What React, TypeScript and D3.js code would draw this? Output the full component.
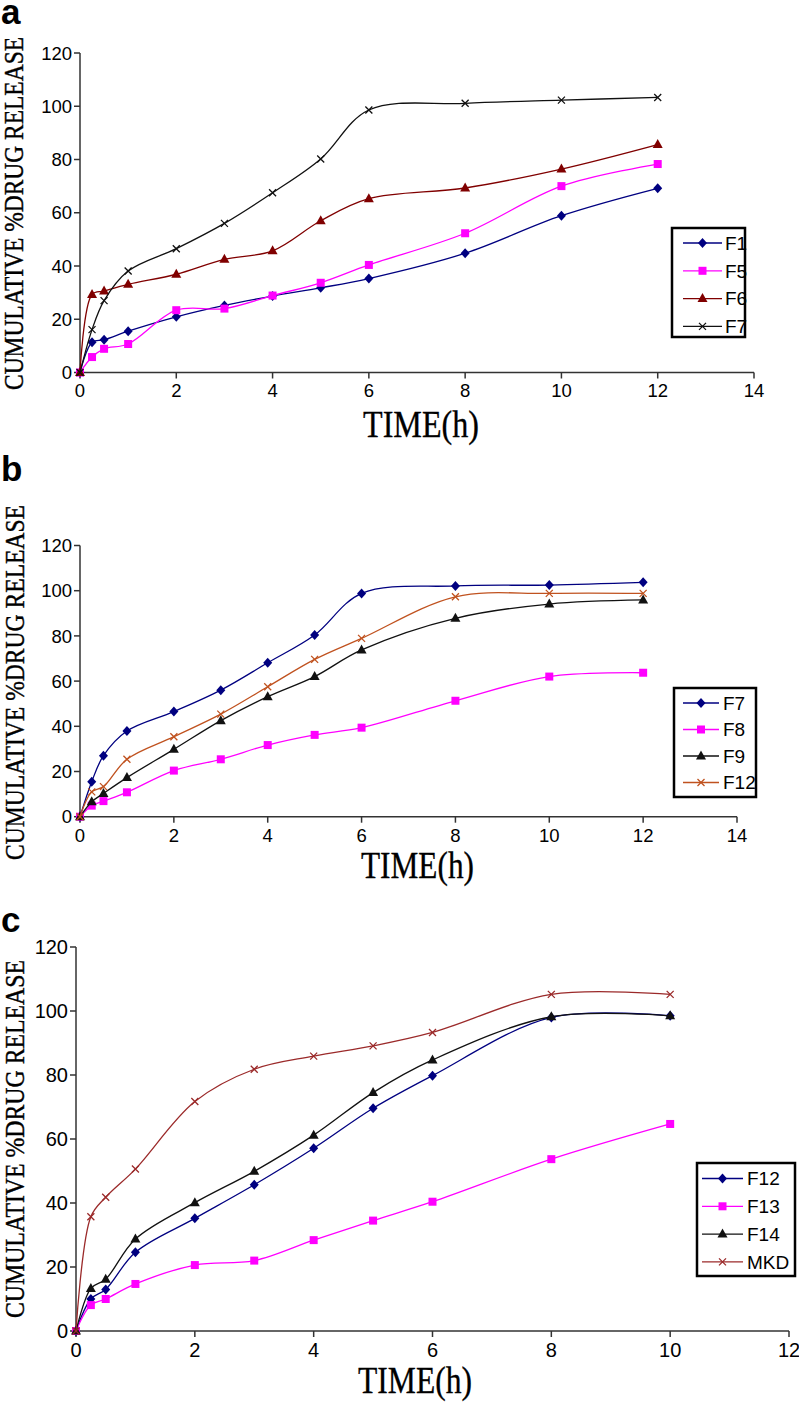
import React from 'react';
import * as d3 from 'd3';

// ---------- DATA ----------
const TIME_AB = [0, 0.25, 0.5, 1, 2, 3, 4, 5, 6, 8, 10, 12];
const TIME_C = [0, 0.25, 0.5, 1, 2, 3, 4, 5, 6, 8, 10];

const A_F1 = [0, 11.4, 12.3, 15.5, 20.9, 25.2, 28.7, 31.8, 35.3, 44.8, 58.9, 69.2];
const A_F5 = [0, 5.8, 8.9, 10.7, 23.4, 24.0, 28.9, 33.7, 40.4, 52.3, 70.0, 78.3];
const A_F6 = [0, 29.3, 30.6, 33.1, 36.9, 42.5, 45.7, 57.0, 65.3, 69.3, 76.4, 85.6];
const A_F7 = [0, 16.1, 27.0, 38.1, 46.5, 56.0, 67.5, 80.2, 98.6, 101.1, 102.3, 103.3];

const B_F7 = [0, 15.5, 27.0, 37.9, 46.5, 56.0, 68.1, 80.4, 98.8, 102.1, 102.5, 103.7];
const B_F8 = [0, 4.9, 6.9, 10.8, 20.4, 25.4, 31.7, 36.2, 39.4, 51.3, 62.0, 63.7];
const B_F9 = [0, 6.6, 10.3, 17.3, 29.8, 42.5, 53.1, 62.0, 73.8, 87.8, 94.1, 95.9];
const B_F12 = [0, 11.0, 13.3, 25.4, 35.4, 45.4, 57.5, 69.6, 78.9, 97.3, 98.8, 98.8];

const C_F12 = [0, 10.0, 13.0, 24.6, 35.2, 45.7, 57.1, 69.6, 79.8, 98.0, 98.5];
const C_F13 = [0, 8.1, 10.0, 14.7, 20.6, 22.0, 28.4, 34.5, 40.4, 53.7, 64.7];
const C_F14 = [0, 13.3, 16.2, 28.75, 40.1, 49.9, 61.2, 74.5, 84.7, 98.2, 98.5];
const C_MKD = [0, 35.7, 41.8, 50.6, 71.7, 81.8, 85.9, 89.1, 93.3, 105.2, 105.2];

const Y_TICKS = [0, 20, 40, 60, 80, 100, 120];
const X_TICKS_AB = [0, 2, 4, 6, 8, 10, 12, 14];
const X_TICKS_C = [0, 2, 4, 6, 8, 10, 12];

const PANEL_LETTERS = ['a', 'b', 'c'];
const Y_TITLE = 'CUMULATIVE %DRUG RELEASE';
const X_TITLE = 'TIME(h)';

type MarkerType = 'diamond' | 'square' | 'triangle' | 'x';
type Series = { name: string; values: number[]; color: string; marker: MarkerType };

const NAVY = '#000080';
const MAGENTA = '#ff00ff';
const MAROON = '#800000';
const BLACK = '#111111';
const BROWN = '#c0521f';
const MKD_RED = '#9b2a2a';

const SERIES_A: Series[] = [
  { name: 'F1', values: A_F1, color: NAVY, marker: 'diamond' },
  { name: 'F5', values: A_F5, color: MAGENTA, marker: 'square' },
  { name: 'F6', values: A_F6, color: MAROON, marker: 'triangle' },
  { name: 'F7', values: A_F7, color: BLACK, marker: 'x' },
];
const SERIES_B: Series[] = [
  { name: 'F7', values: B_F7, color: NAVY, marker: 'diamond' },
  { name: 'F8', values: B_F8, color: MAGENTA, marker: 'square' },
  { name: 'F9', values: B_F9, color: BLACK, marker: 'triangle' },
  { name: 'F12', values: B_F12, color: BROWN, marker: 'x' },
];
const SERIES_C: Series[] = [
  { name: 'F12', values: C_F12, color: NAVY, marker: 'diamond' },
  { name: 'F13', values: C_F13, color: MAGENTA, marker: 'square' },
  { name: 'F14', values: C_F14, color: BLACK, marker: 'triangle' },
  { name: 'MKD', values: C_MKD, color: MKD_RED, marker: 'x' },
];

// ---------- LAYOUT ----------
type Layout = {
  letterY: number;
  x0: number; x1: number; xMax: number;
  yBottom: number; yTop: number;
  tickFont: number;
  yTitleTop: number; yTitleBottom: number; yTitleX: number;
  xTitleX0: number; xTitleX1: number; xTitleBase: number;
  legend: { x0: number; x1: number; y0: number; y1: number; firstY: number; step: number; lineX0: number; lineX1: number; textX: number };
};

const LAYOUTS: Layout[] = [
  {
    letterY: 24, x0: 80, x1: 754, xMax: 14, yBottom: 372.5, yTop: 53, tickFont: 18.5,
    yTitleTop: 37, yTitleBottom: 390, yTitleX: 23,
    xTitleX0: 363, xTitleX1: 479, xTitleBase: 437,
    legend: { x0: 672, x1: 745, y0: 228, y1: 337, firstY: 243, step: 27.8, lineX0: 683, lineX1: 722, textX: 725 },
  },
  {
    letterY: 481, x0: 80, x1: 737, xMax: 14, yBottom: 816.7, yTop: 545.5, tickFont: 18.5,
    yTitleTop: 505, yTitleBottom: 860, yTitleX: 24,
    xTitleX0: 361, xTitleX1: 474, xTitleBase: 878,
    legend: { x0: 674, x1: 756, y0: 688, y1: 797, firstY: 703, step: 26.5, lineX0: 683, lineX1: 719, textX: 723 },
  },
  {
    letterY: 932, x0: 76, x1: 789, xMax: 12, yBottom: 1331, yTop: 947, tickFont: 20,
    yTitleTop: 960, yTitleBottom: 1318, yTitleX: 24,
    xTitleX0: 358, xTitleX1: 472, xTitleBase: 1393,
    legend: { x0: 697, x1: 795, y0: 1163, y1: 1276, firstY: 1178.5, step: 27.8, lineX0: 702, lineX1: 743, textX: 747 },
  },
];

const SANS = '"Liberation Sans", Arial, sans-serif';
const SERIF = '"Liberation Serif", "Times New Roman", serif';

function Marker({ type, x, y, color }: { type: MarkerType; x: number; y: number; color: string }) {
  if (type === 'diamond') {
    return <path d={`M${x},${y - 5}L${x + 4.5},${y}L${x},${y + 5}L${x - 4.5},${y}Z`} fill={color} />;
  }
  if (type === 'square') {
    return <rect x={x - 4} y={y - 4} width={8} height={8} fill={color} />;
  }
  if (type === 'triangle') {
    return <path d={`M${x},${y - 5.5}L${x + 5},${y + 3.5}L${x - 5},${y + 3.5}Z`} fill={color} />;
  }
  return (
    <path
      d={`M${x - 3.5},${y - 3.5}L${x + 3.5},${y + 3.5}M${x - 3.5},${y + 3.5}L${x + 3.5},${y - 3.5}`}
      stroke={color}
      strokeWidth={1.3}
      fill="none"
    />
  );
}

function Panel({ layout, series, time, xTicks, letter }: { layout: Layout; series: Series[]; time: number[]; xTicks: number[]; letter: string }) {
  const L = layout;
  const x = d3.scaleLinear().domain([0, L.xMax]).range([L.x0, L.x1]);
  const y = d3.scaleLinear().domain([0, 120]).range([L.yBottom, L.yTop]);
  const line = d3
    .line<number>()
    .x((_, i) => x(time[i]))
    .y((d) => y(d))
    .curve(d3.curveCatmullRom.alpha(0.5));
  const axisColor = '#333';
  const yTitleCenter = (L.yTitleTop + L.yTitleBottom) / 2;
  const lg = L.legend;
  return (
    <g>
      <text x={1} y={L.letterY} fontFamily={SANS} fontWeight="bold" fontSize={35} fill="#000">
        {letter}
      </text>
      {/* y axis */}
      <line x1={x(0)} x2={x(0)} y1={y(0)} y2={y(120)} stroke={axisColor} strokeWidth={1.5} />
      {Y_TICKS.map((t) => (
        <g key={`y${t}`}>
          <line x1={x(0) - 6} x2={x(0)} y1={y(t)} y2={y(t)} stroke={axisColor} strokeWidth={1.5} />
          <text x={x(0) - 8} y={y(t)} dy="0.36em" textAnchor="end" fontFamily={SANS} fontSize={L.tickFont} fill="#000">
            {t}
          </text>
        </g>
      ))}
      {/* x axis */}
      <line x1={x(0)} x2={x(L.xMax)} y1={y(0)} y2={y(0)} stroke={axisColor} strokeWidth={1.5} />
      {xTicks.map((t) => (
        <g key={`x${t}`}>
          <line x1={x(t)} x2={x(t)} y1={y(0)} y2={y(0) + 6} stroke={axisColor} strokeWidth={1.5} />
          <text x={x(t)} y={y(0) + 10} dy="0.8em" textAnchor="middle" fontFamily={SANS} fontSize={L.tickFont} fill="#000">
            {t}
          </text>
        </g>
      ))}
      {/* titles */}
      <text
        transform={`translate(${L.yTitleX},${yTitleCenter}) rotate(-90)`}
        textAnchor="middle"
        fontFamily={SERIF}
        fontSize={27}
        textLength={L.yTitleBottom - L.yTitleTop}
        lengthAdjust="spacingAndGlyphs"
        fill="#000"
        stroke="#000"
        strokeWidth={0.4}
      >
        {Y_TITLE}
      </text>
      <text
        x={L.xTitleX0}
        y={L.xTitleBase}
        fontFamily={SERIF}
        fontSize={37}
        textLength={L.xTitleX1 - L.xTitleX0}
        lengthAdjust="spacingAndGlyphs"
        fill="#000"
        stroke="#000"
        strokeWidth={0.3}
      >
        {X_TITLE}
      </text>
      {/* series */}
      {series.map((s) => (
        <g key={s.name}>
          <path d={line(s.values) || ''} fill="none" stroke={s.color} strokeWidth={1.3} />
          {s.values.map((v, i) => (
            <Marker key={i} type={s.marker} x={x(time[i])} y={y(v)} color={s.color} />
          ))}
        </g>
      ))}
      {/* legend */}
      <rect x={lg.x0} y={lg.y0} width={lg.x1 - lg.x0} height={lg.y1 - lg.y0} fill="#fff" stroke="#000" strokeWidth={2.5} />
      {series.map((s, i) => {
        const ly = lg.firstY + i * lg.step;
        return (
          <g key={`lg${s.name}`}>
            <line x1={lg.lineX0} x2={lg.lineX1} y1={ly} y2={ly} stroke={s.color} strokeWidth={1.3} />
            <Marker type={s.marker} x={(lg.lineX0 + lg.lineX1) / 2} y={ly} color={s.color} />
            <text x={lg.textX} y={ly} dy="0.36em" fontFamily={SANS} fontSize={19} fill="#000">
              {s.name}
            </text>
          </g>
        );
      })}
    </g>
  );
}

export default function App() {
  return (
    <svg
      width={799}
      height={1408}
      viewBox="0 0 799 1408"
      style={{ position: 'absolute', left: 0, top: 0, background: '#fff' }}
    >
      <rect x={0} y={0} width={799} height={1408} fill="#fff" />
      <Panel layout={LAYOUTS[0]} series={SERIES_A} time={TIME_AB} xTicks={X_TICKS_AB} letter={PANEL_LETTERS[0]} />
      <Panel layout={LAYOUTS[1]} series={SERIES_B} time={TIME_AB} xTicks={X_TICKS_AB} letter={PANEL_LETTERS[1]} />
      <Panel layout={LAYOUTS[2]} series={SERIES_C} time={TIME_C} xTicks={X_TICKS_C} letter={PANEL_LETTERS[2]} />
    </svg>
  );
}
